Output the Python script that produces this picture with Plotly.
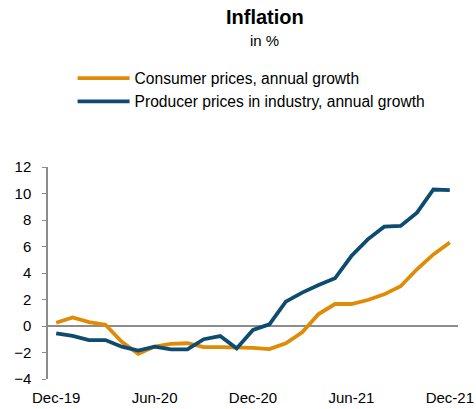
import plotly.graph_objects as go

months = ["Dec-19", "Jan-20", "Feb-20", "Mar-20", "Apr-20", "May-20", "Jun-20",
          "Jul-20", "Aug-20", "Sep-20", "Oct-20", "Nov-20", "Dec-20",
          "Jan-21", "Feb-21", "Mar-21", "Apr-21", "May-21", "Jun-21",
          "Jul-21", "Aug-21", "Sep-21", "Oct-21", "Nov-21", "Dec-21"]

consumer = [0.25, 0.65, 0.3, 0.1, -1.2, -2.1, -1.55, -1.35, -1.3, -1.6, -1.6, -1.6, -1.65,
            -1.74, -1.3, -0.48, 0.9, 1.66, 1.66, 1.96, 2.39, 3.0, 4.28, 5.4, 6.3]
producer = [-0.55, -0.75, -1.06, -1.06, -1.56, -1.86, -1.56, -1.76, -1.76, -1.0, -0.76, -1.69, -0.3,
            0.12, 1.84, 2.52, 3.09, 3.6, 5.28, 6.54, 7.5, 7.55, 8.55, 10.3, 10.25]

tick_labels = ["Dec-19", "Jun-20", "Dec-20", "Jun-21", "Dec-21"]
y_ticks = [-4, -2, 0, 2, 4, 6, 8, 10, 12]

ORANGE = "#DE8C06"
BLUE = "#0D4C70"

fig = go.Figure()
fig.add_trace(go.Scatter(x=months, y=consumer, mode="lines",
                         line=dict(color=ORANGE, width=3.8),
                         name="Consumer prices, annual growth"))
fig.add_trace(go.Scatter(x=months, y=producer, mode="lines",
                         line=dict(color=BLUE, width=3.8),
                         name="Producer prices in industry, annual growth"))

# title block sits above the legend
fig.add_annotation(text="<b>Inflation</b>", x=0.529, y=1.708, xref="paper", yref="paper",
                   showarrow=False, font=dict(size=20, color="black"), xanchor="center", yanchor="middle")
fig.add_annotation(text="in %", x=0.529, y=1.599, xref="paper", yref="paper",
                   showarrow=False, font=dict(size=15, color="black"), xanchor="center", yanchor="middle")

fig.update_layout(
    width=476, height=409,
    margin=dict(l=48, r=18, t=167, b=30),
    plot_bgcolor="white", paper_bgcolor="white",
    font=dict(family="Liberation Sans, Arial", size=15, color="black"),
    showlegend=True,
    legend=dict(x=0.06, y=1.498, xanchor="left", yanchor="top",
                font=dict(size=15.6), itemwidth=52, tracegroupgap=0,
                bgcolor="rgba(0,0,0,0)"),
    xaxis=dict(type="category", range=[-0.5, 24.5], tickvals=tick_labels,
               ticktext=tick_labels, showgrid=False, showline=False, ticks="",
               zeroline=False, automargin=False, ticklabelstandoff=8,
               tickfont=dict(size=15)),
    yaxis=dict(range=[-4, 12], tickvals=y_ticks, showgrid=False, zeroline=True,
               zerolinecolor="#8c8c8c", zerolinewidth=1.5, showline=True,
               linecolor="#8c8c8c", linewidth=1.5, ticks="outside", ticklen=4,
               tickcolor="#8c8c8c", automargin=False, ticklabelstandoff=8,
               tickfont=dict(size=15)),
)

# drop the default 8px body margin so the figure fills the window exactly
fig.write_html("out.html", config={"displayModeBar": False},
               post_script="document.body.style.margin='0';document.body.style.overflow='hidden';")
